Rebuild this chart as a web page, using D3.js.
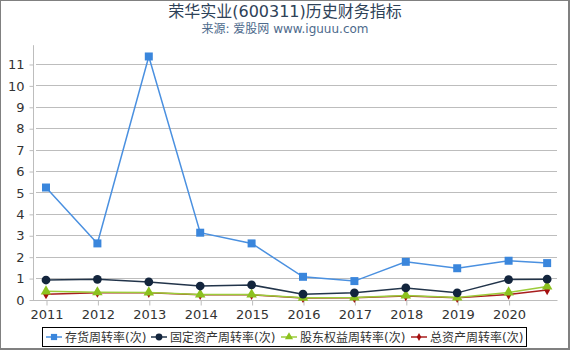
<!DOCTYPE html>
<html>
<head>
<meta charset="utf-8">
<script src="https://cdn.jsdelivr.net/npm/d3@7"></script>
<style>
  body { margin: 0; background: #fff; }
  text { font-family: "DejaVu Sans", "Noto Sans CJK SC", sans-serif; }
</style>
</head>
<body>
<div id="chart"></div>
<script>
// data
var years = [2011, 2012, 2013, 2014, 2015, 2016, 2017, 2018, 2019, 2020, 2020.75];
var tickYears = [2011, 2012, 2013, 2014, 2015, 2016, 2017, 2018, 2019, 2020];
var yTicks = [0, 1, 2, 3, 4, 5, 6, 7, 8, 9, 10, 11];
var inventory = [5.23, 2.62, 11.35, 3.12, 2.62, 1.06, 0.86, 1.76, 1.46, 1.81, 1.70];
var fixedAssets = [0.91, 0.94, 0.82, 0.63, 0.68, 0.25, 0.31, 0.54, 0.31, 0.93, 0.95];
var equity = [0.38, 0.34, 0.33, 0.23, 0.23, 0.08, 0.09, 0.19, 0.09, 0.33, 0.61];
var totalAssets = [0.25, 0.32, 0.31, 0.22, 0.22, 0.07, 0.08, 0.16, 0.08, 0.23, 0.44];
var seriesNames = ['存货周转率(次)', '固定资产周转率(次)', '股东权益周转率(次)', '总资产周转率(次)'];

var W = 570, H = 350;
var svg = d3.select('#chart').append('svg')
    .attr('width', W)
    .attr('height', H);

// frame
svg.append('rect').attr('x', 0).attr('y', 0).attr('width', W).attr('height', H).attr('fill', '#808080');
svg.append('rect').attr('x', 1).attr('y', 1).attr('width', W - 3).attr('height', H - 3).attr('fill', '#fff');

// titles
svg.append('text')
    .attr('x', 285).attr('y', 17)
    .attr('text-anchor', 'middle')
    .attr('font-size', 16)
    .attr('fill', '#2e4258')
    .text('荣华实业(600311)历史财务指标');
svg.append('text')
    .attr('x', 285).attr('y', 33)
    .attr('text-anchor', 'middle')
    .attr('font-size', 12)
    .attr('fill', '#4d6a8c')
    .text('来源: 爱股网 www.iguuu.com');

var x = d3.scaleLinear().domain([2011, 2021]).range([46, 560]);
var y = d3.scaleLinear().domain([0, 11.9]).range([299.5, 44.7]);
var left = 33, right = 557;

// gridlines
svg.append('g')
    .selectAll('line')
    .data(yTicks)
    .enter().append('line')
        .attr('x1', left + 3).attr('x2', right)
        .attr('y1', function(d) { return Math.round(y(d)) + 0.5; })
        .attr('y2', function(d) { return Math.round(y(d)) + 0.5; })
        .attr('stroke', '#bdbdbd')
        .attr('stroke-width', 1);

// y axis
var yAxis = svg.append('g')
    .attr('transform', 'translate(' + (left + 0.5) + ',0.5)')
    .call(d3.axisLeft(y).tickValues(yTicks).tickSize(4).tickPadding(5));
yAxis.select('.domain').remove();
yAxis.append('line')
    .attr('x1', 0).attr('x2', 0)
    .attr('y1', y.range()[1]).attr('y2', y(0) + 1)
    .attr('stroke', '#bdbdbd');
yAxis.selectAll('.tick line').attr('stroke', '#bdbdbd');
yAxis.selectAll('.tick text')
    .attr('font-size', 13)
    .attr('fill', '#333')
    .style('font-family', '"DejaVu Sans", sans-serif');

// x axis
var xAxis = svg.append('g')
    .attr('transform', 'translate(0.5,' + (Math.round(y(0)) + 0.5) + ')')
    .call(d3.axisBottom(x).tickValues(tickYears).tickFormat(d3.format('d')).tickSize(5).tickPadding(4));
xAxis.select('.domain').remove();
xAxis.append('line')
    .attr('x1', left).attr('x2', right)
    .attr('y1', 0).attr('y2', 0)
    .attr('stroke', '#bdbdbd');
xAxis.selectAll('.tick line').attr('stroke', '#bdbdbd');
xAxis.selectAll('.tick text')
    .attr('font-size', 13)
    .attr('fill', '#333')
    .style('font-family', '"DejaVu Sans", sans-serif');

var series = [
    {name: seriesNames[0], values: inventory, color: '#3a86dc', lineColor: '#4a90e0', symbol: d3.symbolSquare, size: 64},
    {name: seriesNames[1], values: fixedAssets, color: '#13253d', lineColor: '#22344a', symbol: d3.symbolCircle, size: 60},
    {name: seriesNames[2], values: equity, color: '#8cc21f', lineColor: '#9ccc3a', symbol: d3.symbolTriangle, size: 48},
    {name: seriesNames[3], values: totalAssets, color: '#a50f0f', lineColor: '#a81e1e', symbol: d3.symbolDiamond, size: 30}
];

var line = d3.line()
    .x(function(d) { return x(d[0]); })
    .y(function(d) { return y(d[1]); });

// draw from bottom series up so the blue one is on top
series.slice().reverse().forEach(function(s) {
    var pts = years.map(function(yr, i) { return [yr, s.values[i]]; });
    var g = svg.append('g');
    g.append('path')
        .datum(pts)
        .attr('d', line)
        .attr('fill', 'none')
        .attr('stroke', s.lineColor)
        .attr('stroke-width', 1.5);
    g.selectAll('path.pt')
        .data(pts)
        .enter().append('path')
            .attr('class', 'pt')
            .attr('transform', function(d) { return 'translate(' + x(d[0]) + ',' + y(d[1]) + ')'; })
            .attr('d', d3.symbol().type(s.symbol).size(s.size))
            .attr('fill', s.color);
});

// legend
var legend = svg.append('g');
legend.append('rect')
    .attr('x', 42.5).attr('y', 327.5)
    .attr('width', 484).attr('height', 19)
    .attr('fill', '#fff')
    .attr('stroke', '#000')
    .attr('stroke-width', 1);
var legendX = [54, 159, 289, 419];
series.forEach(function(s, i) {
    var lg = legend.append('g').attr('transform', 'translate(' + legendX[i] + ',337)');
    lg.append('line')
        .attr('x1', -8).attr('x2', 8)
        .attr('stroke', s.lineColor)
        .attr('stroke-width', 1.5);
    lg.append('path')
        .attr('d', d3.symbol().type(s.symbol).size(s.size * 0.6))
        .attr('fill', s.color);
    lg.append('text')
        .attr('x', 11)
        .attr('y', 5)
        .attr('font-size', 12)
        .attr('fill', '#333')
        .text(s.name);
});
</script>
</body>
</html>
